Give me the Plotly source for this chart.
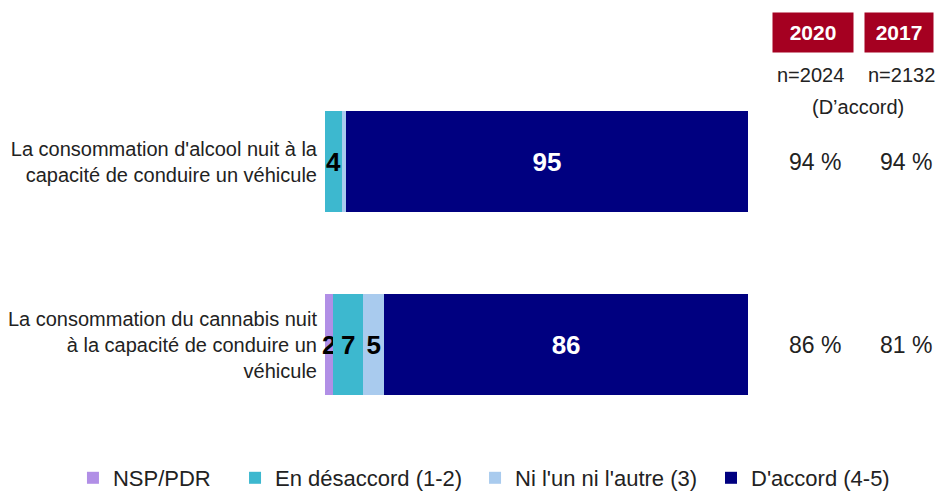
import plotly.graph_objects as go

categories = [
    "La consommation d'alcool nuit à la<br>capacité de conduire un véhicule",
    "La consommation du cannabis nuit<br>à la capacité de conduire un<br>véhicule",
]
series_names = ["NSP/PDR", "En désaccord (1-2)", "Ni l'un ni l'autre (3)", "D'accord (4-5)"]
nsp = [0, 2]
desaccord = [4, 7]
neutre = [1, 5]
accord = [95, 86]
years = ["2020", "2017"]
sample_sizes = ["n=2024", "n=2132"]
agree_2020 = [94, 86]
agree_2017 = [94, 81]

colors = ["#B18FE6", "#3DB8CF", "#A9CBEE", "#000080"]
text_colors = ["#000000", "#000000", "#000000", "#FFFFFF"]
FONT = "Liberation Sans, Arial, sans-serif"
legend_ids = ["legend", "legend2", "legend3", "legend4"]
legend_x = [0.0777, 0.2503, 0.5059, 0.7572]

fig = go.Figure()
for name, vals, col, tcol, lg in zip(series_names, [nsp, desaccord, neutre, accord], colors, text_colors, legend_ids):
    fig.add_trace(go.Bar(
        y=categories, x=vals, name=name, orientation="h",
        marker=dict(color=col, line=dict(width=0)),
        text=[str(v) if v >= 2 else "" for v in vals],
        textposition="inside", insidetextanchor="middle",
        textfont=dict(family=FONT, size=26, color=tcol, weight="bold"),
        cliponaxis=False, hoverinfo="skip", legend=lg,
    ))

# right-side columns (paper coords relative to plot area)
header_x = [1.1548, 1.357]
header_w = [78, 66]
n_x = [1.1466, 1.364]
val_x = [1.158, 1.3735]
for i, (yr, n) in enumerate(zip(years, sample_sizes)):
    fig.add_annotation(x=header_x[i], y=1.1025, xref="paper", yref="paper",
                       text="<b>" + yr + "</b>", showarrow=False,
                       font=dict(family=FONT, size=21, color="white"),
                       bgcolor="#A50021", width=header_w[i], height=37,
                       xanchor="center", yanchor="middle")
    fig.add_annotation(x=n_x[i], y=0.986, xref="paper", yref="paper",
                       text=n, showarrow=False,
                       font=dict(family=FONT, size=20, color="#222"),
                       xanchor="center", yanchor="middle")
fig.add_annotation(x=1.260, y=0.899, xref="paper", yref="paper",
                   text="(D\u2019accord)", showarrow=False,
                   font=dict(family=FONT, size=20, color="#222"),
                   xanchor="center", yanchor="middle")
for cat, a, b in zip(categories, agree_2020, agree_2017):
    for xx, v in zip(val_x, [a, b]):
        fig.add_annotation(x=xx, y=cat, xref="paper", yref="y",
                           text=f"{v} %", showarrow=False,
                           font=dict(family=FONT, size=23, color="#222"),
                           xanchor="center", yanchor="middle")

legend_style = dict(orientation="h", xref="container", xanchor="left",
                    y=0.0324, yref="container", yanchor="middle",
                    font=dict(family=FONT, size=22, color="#222"),
                    itemwidth=30, bgcolor="rgba(0,0,0,0)")
layout_legends = {lg: dict(legend_style, x=lx) for lg, lx in zip(legend_ids, legend_x)}

fig.update_layout(
    barmode="stack", bargap=0.443,
    width=939, height=494,
    margin=dict(l=325, r=191, t=70, b=58, autoexpand=False),
    paper_bgcolor="white", plot_bgcolor="white",
    font=dict(family=FONT, size=20, color="#222"),
    xaxis=dict(range=[0, 100], visible=False, fixedrange=True),
    yaxis=dict(autorange="reversed", showgrid=False, zeroline=False, showline=False,
               ticks="", ticklabelstandoff=7, tickfont=dict(family=FONT, size=20, color="#222")),
    uniformtext=dict(minsize=26, mode="show"),
    showlegend=True,
    **layout_legends,
)

fig.write_html(
    "out.html",
    config={"displayModeBar": False},
    post_script="document.body.style.margin='0px';document.body.style.overflow='hidden';",
)
